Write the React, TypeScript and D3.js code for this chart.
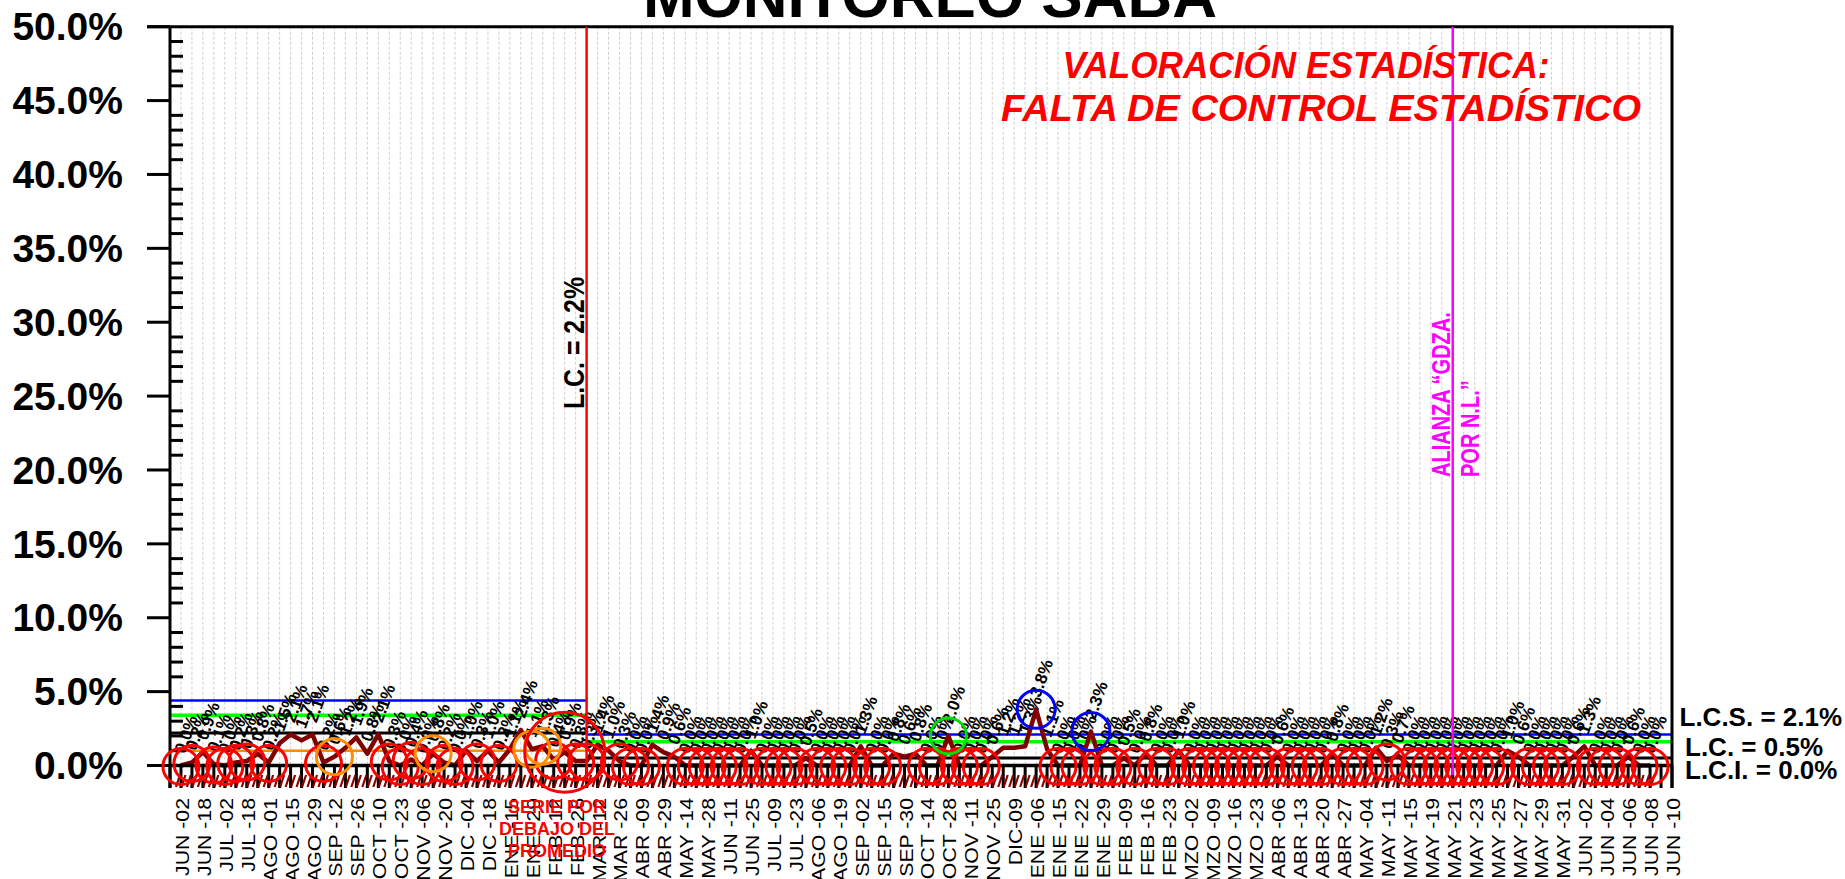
import React from 'react';
import * as d3 from 'd3';

const W = 1845;
const H = 879;

const title = 'MONITOREO SABA';

const tickLabels = [
  'JUN -02', 'JUN -18', 'JUL -02', 'JUL -18', 'AGO -01', 'AGO -15', 'AGO -29', 'SEP -12', 'SEP -26', 'OCT -10',
  'OCT -23', 'NOV -06', 'NOV -20', 'DIC -04', 'DIC -18', 'ENE -15', 'ENE -29', 'FEB -12', 'FEB -26', 'MAR -12',
  'MAR -26', 'ABR -09', 'ABR -29', 'MAY -14', 'MAY -28', 'JUN -11', 'JUN -25', 'JUL -09', 'JUL -23', 'AGO -06',
  'AGO -19', 'SEP -02', 'SEP -15', 'SEP -30', 'OCT -14', 'OCT -28', 'NOV -11', 'NOV -25', 'DIC-09', 'ENE -06',
  'ENE -15', 'ENE -22', 'ENE -29', 'FEB -09', 'FEB -16', 'FEB -23', 'MZO -02', 'MZO -09', 'MZO -16', 'MZO -23',
  'ABR -06', 'ABR -13', 'ABR -20', 'ABR -27', 'MAY -04', 'MAY -11', 'MAY -15', 'MAY -19', 'MAY -21', 'MAY -23',
  'MAY -25', 'MAY -27', 'MAY -29', 'MAY -31', 'JUN -02', 'JUN -04', 'JUN -06', 'JUN -08', 'JUN -10',
];

const categoryCount = 138;
const firstDataIndex = 1;

// percentage values, category 1 .. 134
const values = [
  0.0, 0.2, 0.9, 0.1, 0.0, 0.2, 0.3, 0.8, 0.2, 1.5,
  2.1, 1.7, 2.1, 0.2, 0.6, 1.2, 1.9, 0.8, 2.1, 0.3,
  0.0, 0.4, 0.0, 0.8, 0.2, 0.0, 1.0, 0.3, 1.0, 0.2,
  1.1, 2.4, 1.1, 1.3, 0.4, 0.9, 0.3,
  0.3, 1.4, 1.0, 0.3, 0.0, 0.0, 1.4, 0.9, 0.6, 0.0,
  0.0, 0.0, 0.0, 0.0, 0.0, 1.0, 0.0, 0.0, 0.0, 0.0,
  0.5, 0.0, 0.0, 0.0, 0.0, 1.3, 0.0, 0.0, 0.8, 0.6,
  0.8, 0.0, 0.0, 2.0, 0.0, 0.0, 0.0, 0.6, 1.2, 1.2,
  1.3, 3.8, 1.1, 0.0, 0.0, 0.0, 2.3, 0.0, 0.0, 0.5,
  0.0, 0.8, 0.0, 0.0, 1.0, 0.0, 0.0, 0.0, 0.0, 0.0,
  0.0, 0.0, 0.0, 0.6, 0.0, 0.0, 0.0, 0.0, 0.8, 0.0,
  0.0, 0.0, 1.2, 0.3, 0.7, 0.0, 0.0, 0.0, 0.0, 0.0,
  0.0, 0.0, 0.0, 0.0, 1.0, 0.6, 0.0, 0.0, 0.0, 0.0,
  0.6, 1.3, 0.0, 0.0, 0.0, 0.6, 0.0, 0.0,
];

const yTicks = [0, 5, 10, 15, 20, 25, 30, 35, 40, 45, 50];

// control limits per phase
const phaseFrom = [0, 38];
const phaseTo = [38, 137];
const uclValues = [4.4, 2.1];
const upperZoneValues = [3.4, 1.6];
const centerValues = [2.2, 0.5];
const lowerZoneValues = [1.0, null];
const lclValues = [0.0, 0.0];

const orangeCircles = [15, 24, 33, 34];
const greenCircles = [71];
const blueCircles = [79, 84];
const bigRedCircles = [36];

const phaseChangeIndex = 38;
const allianceIndex = 117;

const limitLabels = ['L.C.S. = 2.1%', 'L.C. = 0.5%', 'L.C.I. = 0.0%'];

const FONT = '"Liberation Sans", Arial, Helvetica, sans-serif';

export default function App() {
  const x = d3.scalePoint<number>().domain(d3.range(categoryCount)).range([170, 1672]);
  const y = d3.scaleLinear().domain([0, 50]).range([765.5, 26.7]);
  const plotTop = y(50);
  const plotBottom = 788;
  const y0 = y(0);

  const pts = values.map((v, k) => ({ i: k + firstDataIndex, v }));
  const line = d3
    .line<{ i: number; v: number }>()
    .x((d) => x(d.i) as number)
    .y((d) => y(d.v));

  const special = new Set([...orangeCircles, ...greenCircles, ...blueCircles, ...bigRedCircles]);
  const redCircles = pts.filter((d) => d.v < 0.5 && !special.has(d.i));
  const valueAt = (i: number) => values[i - firstDataIndex];

  const minorTicks = d3.range(0, 51, 1).filter((t) => t % 5 !== 0);

  const limitRows: { key: string; vals: (number | null)[]; color: string; w: number }[] = [
    { key: 'lcl', vals: lclValues, color: '#000000', w: 3 },
    { key: 'low', vals: lowerZoneValues, color: '#ff8c00', w: 2.5 },
    { key: 'lc', vals: centerValues, color: '#000000', w: 3 },
    { key: 'up', vals: upperZoneValues, color: '#00ff00', w: 3.5 },
    { key: 'ucl', vals: uclValues, color: '#0000ff', w: 2.5 },
  ];

  return (
    <svg
      width={W}
      height={H}
      style={{ position: 'fixed', left: 0, top: 0, background: '#ffffff' }}
      fontFamily={FONT}
    >
      <rect x={0} y={0} width={W} height={H} fill="#ffffff" />

      {/* vertical gridlines */}
      {d3.range(1, categoryCount - 1).map((i) => (
        <line
          key={'g' + i}
          x1={x(i)}
          x2={x(i)}
          y1={plotTop}
          y2={y0}
          stroke="#cfcfcf"
          strokeWidth={1}
          strokeDasharray="3,2"
        />
      ))}

      {/* control limit lines */}
      {limitRows.map((row) =>
        phaseFrom.map((f, p) =>
          row.vals[p] === null ? null : (
            <line
              key={row.key + p}
              x1={x(f)}
              x2={x(phaseTo[p])}
              y1={y(row.vals[p] as number)}
              y2={y(row.vals[p] as number)}
              stroke={row.color}
              strokeWidth={row.w}
            />
          )
        )
      )}

      {/* data labels */}
      {pts.map((d) => (
        <text
          key={'l' + d.i}
          transform={`translate(${(x(d.i) as number) + 4},${y(d.v) - 11}) rotate(-70)`}
          fontSize={17}
          fontWeight="bold"
          fill="#000000"
        >
          {d.v.toFixed(1) + '%'}
        </text>
      ))}

      {/* series line */}
      <path d={line(pts) || ''} fill="none" stroke="#800000" strokeWidth={4.5} strokeLinejoin="round" />

      {/* axes */}
      <line x1={147} x2={1673.5} y1={plotTop} y2={plotTop} stroke="#000" strokeWidth={3} />
      <line x1={170} x2={170} y1={plotTop} y2={plotBottom} stroke="#000" strokeWidth={3} />
      <line x1={1672} x2={1672} y1={plotTop} y2={plotBottom} stroke="#000" strokeWidth={3} />
      {yTicks.map((t) => (
        <line key={'yt' + t} x1={147} x2={170} y1={y(t)} y2={y(t)} stroke="#000" strokeWidth={3} />
      ))}
      {minorTicks.map((t) => (
        <line key={'ym' + t} x1={170} x2={183} y1={y(t)} y2={y(t)} stroke="#000" strokeWidth={3} />
      ))}
      {d3.range(0, categoryCount).map((i) => (
        <line key={'xt' + i} x1={x(i)} x2={x(i)} y1={y0} y2={plotBottom} stroke="#000" strokeWidth={3} />
      ))}
      <line x1={170} x2={1672} y1={y0} y2={y0} stroke="#000" strokeWidth={3.5} />

      {/* slashes under the axis */}
      {pts.map((d) => (
        <g key={'s' + d.i} stroke="#8b0000" strokeWidth={2.2}>
          <line x1={(x(d.i) as number) - 5} y1={787} x2={(x(d.i) as number) - 1} y2={775} />
          <line x1={(x(d.i) as number) + 0.5} y1={787} x2={(x(d.i) as number) + 4.5} y2={775} />
        </g>
      ))}

      {/* circles */}
      {redCircles.map((d) => (
        <circle key={'rc' + d.i} cx={x(d.i)} cy={y(d.v) + 1} r={18} fill="none" stroke="#ff0000" strokeWidth={3} />
      ))}
      {orangeCircles.map((i) => (
        <circle key={'oc' + i} cx={x(i)} cy={y(valueAt(i))} r={18} fill="none" stroke="#ff8c00" strokeWidth={3} />
      ))}
      {greenCircles.map((i) => (
        <circle key={'gc' + i} cx={x(i)} cy={y(valueAt(i))} r={18} fill="none" stroke="#00dd00" strokeWidth={3} />
      ))}
      {blueCircles.map((i) => (
        <circle key={'bc' + i} cx={x(i)} cy={y(valueAt(i))} r={19} fill="none" stroke="#0000ff" strokeWidth={3} />
      ))}
      {bigRedCircles.map((i) => (
        <circle key={'brc' + i} cx={x(i)} cy={y(valueAt(i))} r={40} fill="none" stroke="#ff0000" strokeWidth={3} />
      ))}

      {/* phase change lines */}
      <line
        x1={x(phaseChangeIndex)}
        x2={x(phaseChangeIndex)}
        y1={plotTop}
        y2={778}
        stroke="#ff0000"
        strokeWidth={2.5}
      />
      <line
        x1={x(allianceIndex)}
        x2={x(allianceIndex)}
        y1={plotTop}
        y2={775}
        stroke="#ff00ff"
        strokeWidth={2.5}
      />
      <text
        transform={`translate(${(x(phaseChangeIndex) as number) - 3},409) rotate(-90) scale(0.83,1)`}
        fontSize={30}
        fontWeight="bold"
        fill="#000"
      >
        {`L.C. = ${centerValues[0].toFixed(1)}%`}
      </text>
      <text
        transform={`translate(${(x(allianceIndex) as number) - 3},477) rotate(-90) scale(0.77,1)`}
        fontSize={26}
        fontWeight="bold"
        fill="#ff00ff"
      >
        <tspan x={0} y={0}>ALIANZA “GDZA.</tspan>
        <tspan x={0} y={29}>POR N.L.”</tspan>
      </text>

      {/* y tick labels */}
      {yTicks.map((t) => (
        <text key={'yl' + t} x={123} y={y(t)} dy="0.35em" textAnchor="end" fontSize={39} fontWeight="bold">
          {t.toFixed(1) + '%'}
        </text>
      ))}

      {/* x tick labels */}
      {tickLabels.map((lab, k) => (
        <text
          key={'xl' + k}
          transform={`translate(${x(2 * k + 1)},798) rotate(-90) scale(1.12,1)`}
          textAnchor="end"
          dy="0.42em"
          fontSize={19}
          fill="#000"
        >
          {lab}
        </text>
      ))}

      {/* annotation under the axis */}
      <g fill="#ff0000" fontWeight="bold" fontSize={18} textAnchor="middle">
        <text x={557} y={813}>SERIE POR</text>
        <text x={557} y={835}>DEBAJO DEL</text>
        <text x={557} y={857}>PROMEDIO</text>
      </g>

      {/* limit labels on the right */}
      <g fontWeight="bold" fontSize={26} fill="#000">
        <text x={1679.5} y={725.5}>{limitLabels[0]}</text>
        <text x={1685} y={755.5}>{limitLabels[1]}</text>
        <text x={1685} y={779}>{limitLabels[2]}</text>
      </g>

      {/* statistical assessment */}
      <g fill="#ff0000" fontWeight="bold" fontStyle="italic" fontSize={36} textAnchor="middle">
        <text x={1306} y={78} textLength={487} lengthAdjust="spacingAndGlyphs">
          VALORACIÓN ESTADÍSTICA:
        </text>
        <text x={1321} y={121} textLength={640} lengthAdjust="spacingAndGlyphs">
          FALTA DE CONTROL ESTADÍSTICO
        </text>
      </g>

      {/* title */}
      <text x={930} y={17} textAnchor="middle" fontSize={62} fontWeight="bold" fill="#000">
        {title}
      </text>
    </svg>
  );
}
